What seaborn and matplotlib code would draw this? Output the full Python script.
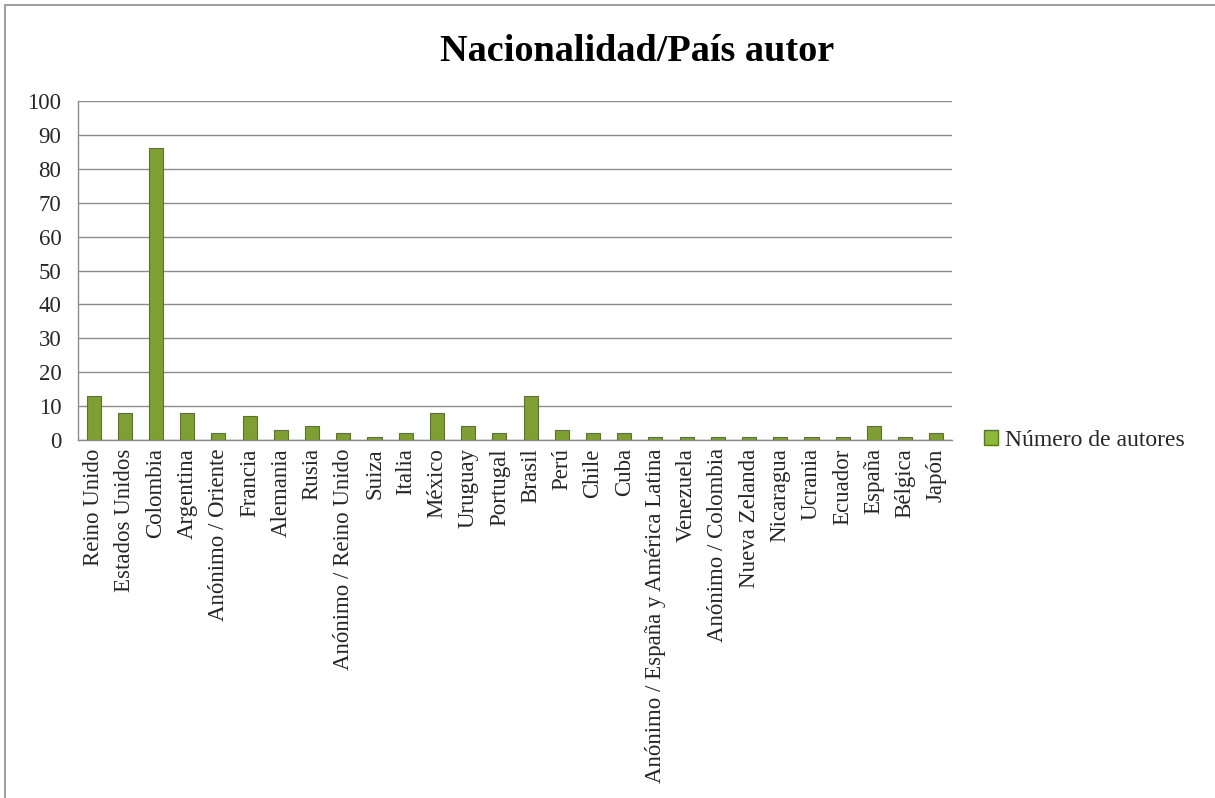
import numpy as np
import pandas as pd
import seaborn as sb
from matplotlib import pyplot as plt
from matplotlib.patches import Rectangle, Patch

paises = ['Reino Unido', 'Estados Unidos', 'Colombia', 'Argentina', 'Anónimo / Oriente',
          'Francia', 'Alemania', 'Rusia', 'Anónimo / Reino Unido', 'Suiza', 'Italia',
          'México', 'Uruguay', 'Portugal', 'Brasil', 'Perú', 'Chile', 'Cuba',
          'Anónimo / España y América Latina', 'Venezuela', 'Anónimo / Colombia',
          'Nueva Zelanda', 'Nicaragua', 'Ucrania', 'Ecuador', 'España', 'Bélgica', 'Japón']
autores = [13, 8, 86, 8, 2, 7, 3, 4, 2, 1, 2, 8, 4, 2, 13, 3, 2, 2, 1, 1, 1, 1, 1, 1, 1, 4, 1, 2]
serie = 'Número de autores'

df = pd.DataFrame({'pais': paises, 'autores': autores})

sb.set_style('white')
plt.rcParams['font.family'] = ['Liberation Serif', 'DejaVu Serif']

fig = plt.figure(figsize=(12.15, 7.98), dpi=100)
ax = fig.add_axes([0.0642, 0.4486, 0.7193, 0.4248])

sb.barplot(data=df, x='pais', y='autores', color='#7f9f34', width=0.45,
           edgecolor='#5a7620', linewidth=0.8, saturation=1, ax=ax, zorder=3)

ax.set_ylim(0, 100)
ax.set_xlim(-0.5, len(paises) - 0.5)
ax.set_yticks(range(0, 101, 10))
ax.yaxis.grid(True, color='#8c8c8c', linewidth=1, zorder=0)
ax.set_axisbelow(True)
for s in ['top', 'right']:
    ax.spines[s].set_visible(False)
for s in ['left', 'bottom']:
    ax.spines[s].set_color('#8c8c8c')
    ax.spines[s].set_linewidth(1)

ax.set_xticks(range(len(paises)))
ax.set_xticklabels(paises, rotation=90, fontsize=16.5)
ax.set_xticks(np.arange(-0.5, len(paises), 1), minor=True)
ax.tick_params(axis='x', which='major', length=0, pad=6)
ax.tick_params(axis='x', which='minor', length=6, color='#8c8c8c', direction='out')
ax.tick_params(axis='y', length=8, color='#8c8c8c', labelsize=16.5, direction='out', pad=4)
ax.set_xlabel('')
ax.set_ylabel('')

fig.text(0.524, 0.935, 'Nacionalidad/País autor', ha='center', va='center',
         fontsize=27.5, fontweight='bold', color='black')

handle = Patch(facecolor='#8db83a', edgecolor='#5a7620', label=serie)
fig.legend(handles=[handle], loc='center left', bbox_to_anchor=(0.802, 0.4486),
           frameon=False, fontsize=17, handlelength=0.6, handleheight=0.6,
           handletextpad=0.3, borderaxespad=0)

fig.patches.append(Rectangle((0.004, -0.01), 1.0, 1.004, transform=fig.transFigure,
                             fill=False, edgecolor='#8c8c8c', linewidth=1.2))

plt.savefig('out.png', dpi=100)
